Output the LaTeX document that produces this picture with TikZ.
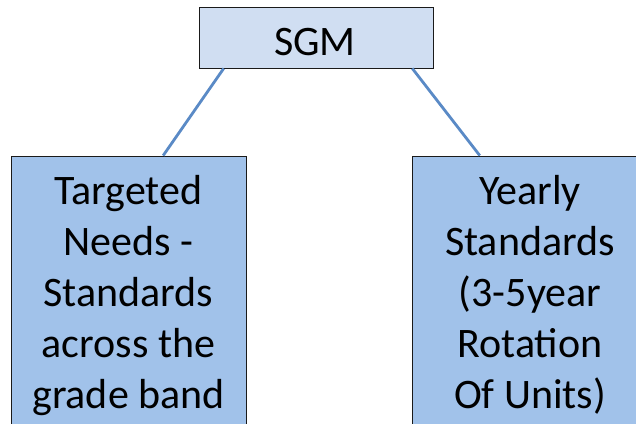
\documentclass[tikz,border=0pt]{standalone}
\usepackage{fontspec}
\setmainfont{Carlito}
\usetikzlibrary{calc}
\definecolor{topfill}{HTML}{D0DEF2}
\definecolor{boxfill}{HTML}{A1C2EA}
\definecolor{linkblue}{HTML}{5A8AC6}
\definecolor{edge}{HTML}{1A1A1A}
\tikzset{
  topbox/.style={draw=edge, line width=0.9pt, fill=topfill, rectangle, inner sep=0pt},
  lowbox/.style={draw=edge, line width=0.9pt, fill=boxfill, rectangle, inner sep=0pt},
  txt/.style={font=\fontsize{42pt}{51pt}\selectfont, align=center, inner sep=0pt, anchor=base},
  conn/.style={draw=linkblue, line width=2.8pt}
}
\begin{document}
\begin{tikzpicture}[x=1pt,y=-1pt]
\useasboundingbox (0,0) rectangle (636,423);
\clip (0,0) rectangle (636,423);
\fill[white] (0,0) rectangle (636,423);
\node[topbox, minimum width=234pt, minimum height=61pt] (sgm) at (316,37.5) {};
\node[lowbox, minimum width=235pt, minimum height=300pt] (left) at (128.5,306) {};
\node[lowbox, minimum width=236pt, minimum height=300pt] (right) at (530,306) {};
\node[txt] (sgmtxt) at (315,55) {SGM};
\node[txt] (lefttxt) at (128.5,408) {Targeted\\Needs -\\Standards\\across the\\grade band};
\node[txt] (righttxt) at (530,408) {Yearly\\Standards\\(3-5year\\Rotation\\Of Units)};
\draw[conn] ($(sgm.south west)!0.107!(sgm.south east)$) -- ($(left.north west)!0.647!(left.north east)$);
\draw[conn] ($(sgm.south west)!0.91!(sgm.south east)$) -- ($(right.north west)!0.288!(right.north east)$);
\end{tikzpicture}
\end{document}
